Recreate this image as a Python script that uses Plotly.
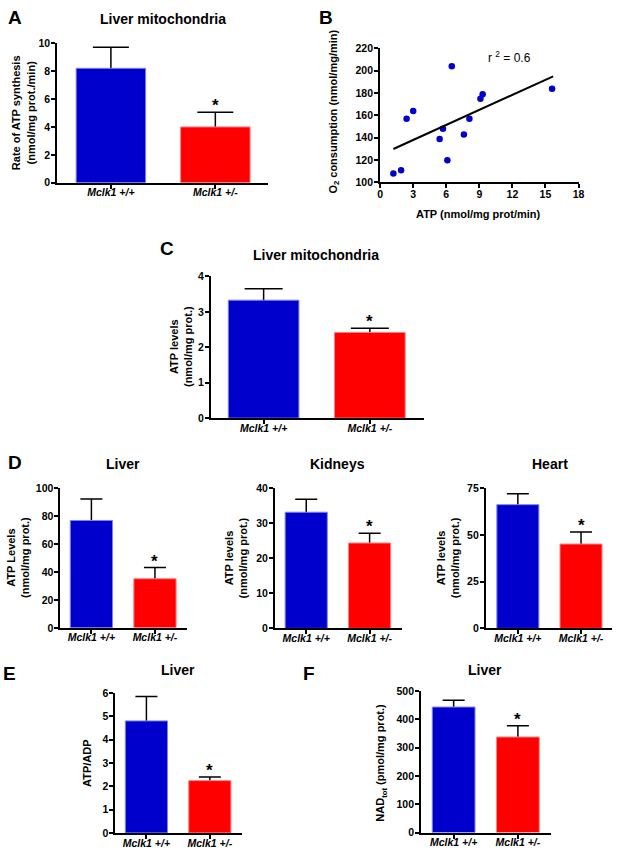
import plotly.graph_objects as go

W, H = 620, 853
FONT = "Liberation Sans, Arial, Helvetica, sans-serif"
BLUE = "#0000CC"
RED = "#FF0000"

# ---------------- data ----------------
groups = ["Mclk1 +/+", "Mclk1 +/-"]
group_labels = ["<b><i>Mclk1 +/+</i></b>", "<b><i>Mclk1 +/-</i></b>"]

# A: rate of ATP synthesis, liver mitochondria
a_mean = [8.2, 4.0]
a_sem = [1.5, 1.05]

# B: O2 consumption vs ATP
b_atp = [1.2, 1.9, 2.4, 3.0, 5.4, 5.7, 6.1, 6.5, 7.6, 8.1, 9.1, 9.3, 15.6]
b_o2 = [108, 111, 157, 164, 139, 148, 120, 204, 143, 157, 175, 179, 184]
b_fit_x = [1.2, 15.7]
b_fit_y = [130, 195]

# C: ATP levels, liver mitochondria
c_mean = [3.33, 2.42]
c_sem = [0.32, 0.12]

# D: ATP levels in tissues
d_liver_mean = [77.0, 35.2]
d_liver_sem = [15.5, 8.0]
d_kid_mean = [33.2, 24.4]
d_kid_sem = [3.7, 2.8]
d_heart_mean = [66.3, 45.2]
d_heart_sem = [5.9, 6.4]

# E: ATP/ADP liver
e_mean = [4.8, 2.24]
e_sem = [1.05, 0.16]

# F: NAD tot liver
f_mean = [444, 338]
f_sem = [24, 40]


def fx(px):
    return px / W


def fy(py):
    return 1 - py / H


fig = go.Figure()
layout = {}
ann = []

axis_common = dict(showline=True, linecolor="black", linewidth=2, showgrid=False,
                   zeroline=False, ticks="outside", ticklen=4, tickwidth=1.5,
                   tickcolor="black",
                   tickfont=dict(family=FONT, size=10.5, color="black", weight="bold"))

bar_panels = [
    # idx, mean, sem, (left, right, top, bottom) px, xrange, yrange, dtick, cap
    (1, a_mean, a_sem, (55, 269, 37.7, 179.3), [-0.514, 1.505], [0, 10], 2, 18),
    (3, c_mean, c_sem, (211, 426.7, 274.3, 418), [-0.496, 1.505], [0, 4], 1, 19),
    (4, d_liver_mean, d_liver_sem, (58.3, 186.7, 489.3, 630.7), [-0.487, 1.504], [0, 100], 20, 11),
    (5, d_kid_mean, d_kid_sem, (276, 405, 489.3, 631.3), [-0.493, 1.513], [0, 40], 10, 11),
    (6, d_heart_mean, d_heart_sem, (490, 618.4, 489.3, 631.3), [-0.506, 1.497], [0, 75], 25, 11),
    (7, e_mean, e_sem, (114, 242.7, 696.7, 838.7), [-0.49, 1.51], [0, 6], 1, 11),
    (8, f_mean, f_sem, (424.3, 556, 695, 838.3), [-0.506, 1.514], [0, 500], 100, 11),
]

for idx, mean, sem, box, xr, yr, dt, cap in bar_panels:
    xa = "x" if idx == 1 else f"x{idx}"
    ya = "y" if idx == 1 else f"y{idx}"
    # error bars (symmetric, lower half hidden behind the bars)
    fig.add_trace(go.Bar(x=groups, y=mean, xaxis=xa, yaxis=ya, width=0.665,
                         marker=dict(color="rgba(0,0,0,0)", line=dict(width=0)),
                         error_y=dict(type="data", array=sem, symmetric=True,
                                      color="black", thickness=1.5, width=cap),
                         showlegend=False, hoverinfo="skip"))
    fig.add_trace(go.Bar(x=groups, y=mean, xaxis=xa, yaxis=ya, width=0.665,
                         marker=dict(color=[BLUE, RED],
                                     line=dict(color=["#8080F0", "#FF8080"], width=1)),
                         showlegend=False))
    left, right, top, bottom = box
    layout["xaxis" if idx == 1 else f"xaxis{idx}"] = dict(
        axis_common, domain=[fx(left), fx(right)], anchor=ya, type="category",
        range=xr, tickvals=groups, ticktext=group_labels, ticklabelstandoff=-5)
    layout["yaxis" if idx == 1 else f"yaxis{idx}"] = dict(
        axis_common, domain=[fy(bottom), fy(top)], anchor=xa, range=yr,
        tick0=0, dtick=dt, ticklabelstandoff=-1)
    ann.append(dict(x=groups[1], y=mean[1] + sem[1], xref=xa, yref=ya, text="<b>*</b>",
                    showarrow=False, yanchor="bottom", yshift=-5,
                    font=dict(family=FONT, size=17, color="black")))

# ---------------- panel B scatter ----------------
fig.add_trace(go.Scatter(x=b_atp, y=b_o2, mode="markers", xaxis="x2", yaxis="y2",
                         marker=dict(color=BLUE, size=6.5), showlegend=False))
fig.add_trace(go.Scatter(x=b_fit_x, y=b_fit_y, mode="lines", xaxis="x2", yaxis="y2",
                         line=dict(color="black", width=2), showlegend=False))
layout["xaxis2"] = dict(axis_common, domain=[fx(382.7), fx(584)], anchor="y2",
                        range=[0, 18], tick0=0, dtick=3, ticklabelstandoff=-3)
layout["yaxis2"] = dict(axis_common, domain=[fy(179), fy(43)], anchor="x2",
                        range=[100, 220], tick0=100, dtick=20, ticklabelstandoff=-1)


def text_ann(px, py, text, size, angle=0, bold=True):
    ann.append(dict(x=fx(px), y=fy(py), xref="paper", yref="paper", text=text,
                    showarrow=False, xanchor="center", yanchor="middle", textangle=angle,
                    font=dict(family=FONT, size=size, color="black",
                              weight="bold" if bold else "normal")))


# panel letters
for lx, ly, lt in [(12, 12, "A"), (327.5, 11.5, "B"), (166.5, 246, "C"),
                   (12.5, 463.5, "D"), (7, 677, "E"), (311, 677, "F")]:
    text_ann(lx, ly, lt, 19)

# panel titles
text_ann(162, 13, "Liver mitochondria", 14)
text_ann(318, 253, "Liver mitochondria", 14)
text_ann(121.7, 465, "Liver", 14)
text_ann(339.3, 465, "Kidneys", 14)
text_ann(555, 465, "Heart", 14)
text_ann(177.3, 673, "Liver", 14)
text_ann(489.3, 673, "Liver", 14)

# y axis titles
text_ann(21, 108, "Rate of ATP synthesis<br>(nmol/mg prot./min)", 11, -90)
text_ann(336, 107, "O<sub>2</sub> consumption (nmol/mg/min)", 11, -90)
text_ann(180.5, 345, "ATP levels<br>(nmol/mg prot.)", 11, -90)
text_ann(15, 559, "ATP Levels<br>(nmol/mg prot.)", 11, -90)
text_ann(236.7, 560, "ATP levels<br>(nmol/mg prot.)", 11, -90)
text_ann(451.7, 560, "ATP levels<br>(nmol/mg prot.)", 11, -90)
text_ann(85, 768, "ATP/ADP", 11, -90)
text_ann(384, 767, "NAD<sub>tot</sub> (pmol/mg prot.)", 11, -90)

# x axis title B and r^2
text_ann(482.5, 211, "ATP (nmol/mg prot/min)", 11)
text_ann(514, 52, "r <sup>2</sup> = 0.6", 12, bold=False)

fig.update_layout(
    width=W, height=H, margin=dict(l=0, r=0, t=0, b=0),
    paper_bgcolor="white", plot_bgcolor="white", barmode="overlay",
    font=dict(family=FONT, color="black"), annotations=ann, showlegend=False,
    **layout)

fig.write_html("out.html", config={"displayModeBar": False},
               post_script="document.body.style.margin='0';document.body.style.padding='0';")
